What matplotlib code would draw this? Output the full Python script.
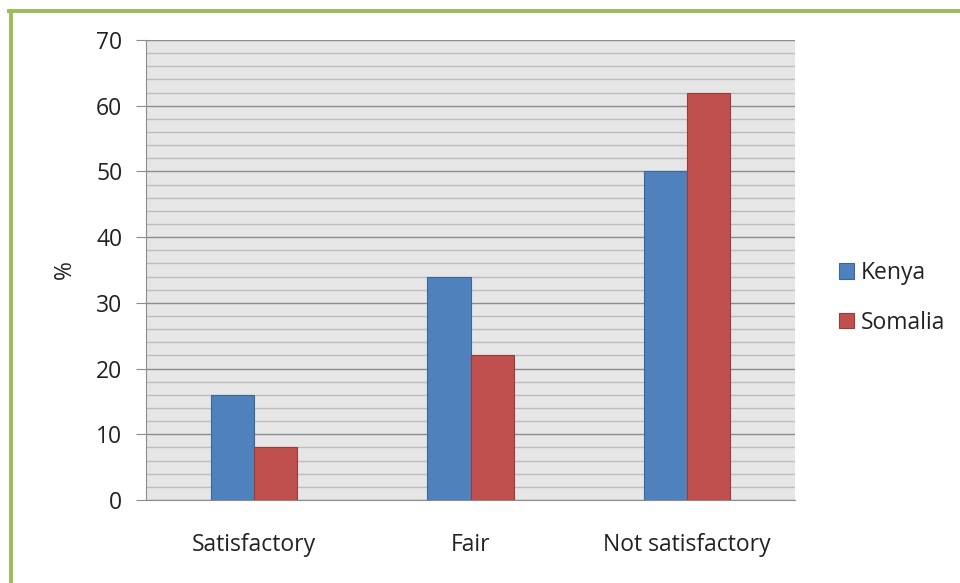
import matplotlib
matplotlib.use("Agg")
import matplotlib.pyplot as plt
from matplotlib.lines import Line2D
import numpy as np

categories = ["Satisfactory", "Fair", "Not satisfactory"]
kenya = [16, 34, 50]
somalia = [8, 22, 62]
series_names = ["Kenya", "Somalia"]

plt.rcParams['font.family'] = ['Open Sans', 'DejaVu Sans']

FS = 16.5
fig = plt.figure(figsize=(9.6, 5.83), dpi=100)
ax = fig.add_axes([146/960, 1-500/583, (795-146)/960, (500-40)/583])
ax.set_facecolor('#E6E6E6')

x = np.arange(len(categories))
w = 0.2
ax.bar(x - w/2, kenya, w, color='#4F81BD', edgecolor='#3A6797', linewidth=0.8, label=series_names[0], zorder=3)
ax.bar(x + w/2, somalia, w, color='#C0504D', edgecolor='#963C3A', linewidth=0.8, label=series_names[1], zorder=3)

ax.set_xlim(-0.5, 2.5)
ax.set_ylim(0, 70)
ax.set_yticks(np.arange(0, 71, 10))
ax.set_yticks(np.arange(0, 71, 2), minor=True)
ax.grid(which='major', axis='y', color='#8C8C8C', linewidth=1.0, zorder=1)
ax.grid(which='minor', axis='y', color='#BDBDBD', linewidth=1.0, zorder=1)
ax.set_xticks(x)
ax.set_xticklabels(categories, fontsize=FS, color='#222222')
ax.tick_params(axis='x', length=0, pad=24)
ax.tick_params(axis='y', which='major', length=7, color='#8C8C8C', labelsize=FS, labelcolor='#222222', pad=10)
ax.tick_params(axis='y', which='minor', length=0)
for s in ['top', 'right']:
    ax.spines[s].set_visible(False)
for s in ['left', 'bottom']:
    ax.spines[s].set_color('#8C8C8C')
ax.set_axisbelow(True)
ax.set_ylabel('%', fontsize=FS, color='#222222', labelpad=14)

leg = fig.legend(loc='center left', bbox_to_anchor=(818/960, 1-298/583), frameon=False,
                 fontsize=FS, handlelength=0.68, handleheight=0.68, handletextpad=0.3,
                 labelspacing=1.1)
for t in leg.get_texts():
    t.set_color('#222222')

# green frame
green = '#9BBB59'
fig.add_artist(Line2D([10.5/960, 10.5/960], [0, 1-10.5/583], transform=fig.transFigure, color=green, linewidth=2.8))
fig.add_artist(Line2D([9/960, 1], [1-10.5/583, 1-10.5/583], transform=fig.transFigure, color=green, linewidth=2.8))

fig.savefig('out.png', dpi=100)
